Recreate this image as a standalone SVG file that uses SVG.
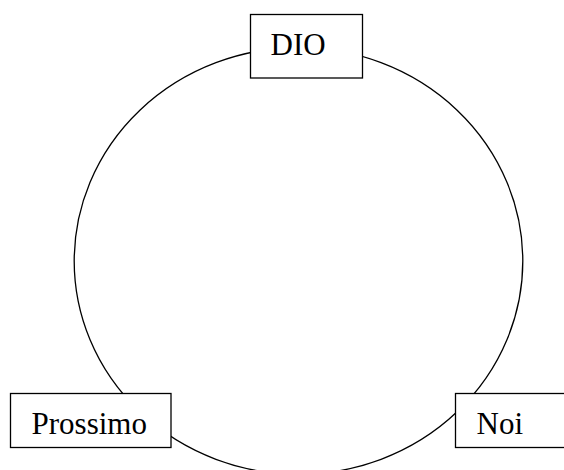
<svg xmlns="http://www.w3.org/2000/svg" width="564" height="470" viewBox="0 0 564 470">
<style>
.box{fill:#fff;stroke:#000;stroke-width:1.3}
.lbl{font-family:"Liberation Serif","Times New Roman",serif;font-size:31px;fill:#000}
.conn{fill:none;stroke:#000;stroke-width:1.3}
</style>
<rect width="564" height="470" fill="#fff"/>
<g id="connectors">
<ellipse class="conn" cx="298.5" cy="261" rx="224.3" ry="213.3"/>
</g>
<g id="dio">
<rect class="box" x="250.5" y="14.5" width="112" height="63.5"/>
<text class="lbl" x="270.5" y="55">DIO</text>
</g>
<g id="prossimo">
<rect class="box" x="10.5" y="393.5" width="160.5" height="54"/>
<text class="lbl" x="31.5" y="433.5">Prossimo</text>
</g>
<g id="noi">
<rect class="box" x="455.5" y="393.5" width="130" height="54"/>
<text class="lbl" x="476.5" y="433.5">Noi</text>
</g>
</svg>
